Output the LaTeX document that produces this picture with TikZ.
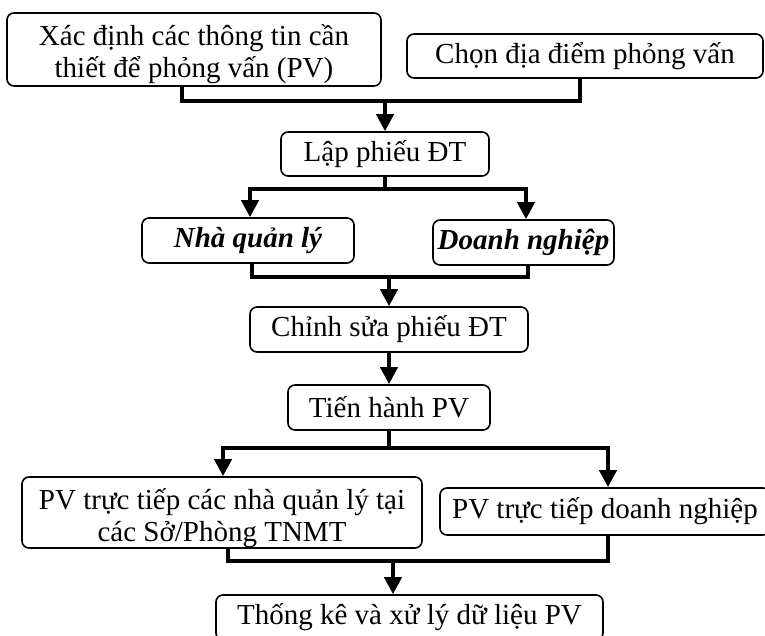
\documentclass[tikz,border=0pt]{standalone}
\usepackage{fontspec}
\setmainfont{Liberation Serif}
\usepackage{tikz}
\usetikzlibrary{positioning,arrows.meta,calc}
\tikzset{
  stepbox/.style={draw,rounded corners=7pt,line width=1.6pt,align=center,inner sep=0pt,
    font=\fontsize{29}{32}\selectfont},
  boxsize/.style 2 args={minimum width=#1pt,minimum height=#2pt},
  bolditem/.style={font=\fontsize{29}{32}\selectfont\bfseries\itshape},
  twoline/.style={align=center,inner sep=0pt,font=\fontsize{29}{32}\selectfont},
  link/.style={line width=4pt},
  arr/.style={-{Triangle[length=17pt,width=17pt]}},
}

\begin{document}
\begin{tikzpicture}[x=1pt,y=-1pt]
\clip (0,0) rectangle (765,636);
% boxes
\node[stepbox,boxsize={374}{73}] (info) at (194,49.5) {};
\node[twoline] (infotext) at ([yshift=-5pt]info.center) {Xác định các thông tin cần\\thiết để phỏng vấn (PV)};
\node[stepbox,boxsize={356}{44}] (place) at (585,56) {Chọn địa điểm phỏng vấn};
\node[stepbox,boxsize={208}{44}] (form) at (385,154) {Lập phiếu ĐT};
\node[stepbox,bolditem,boxsize={212}{45}] (mgr) at (248,240.5) {Nhà quản lý};
\node[stepbox,bolditem,boxsize={181}{45}] (biz) at (523.5,242.5) {Doanh nghiệp};
\node[stepbox,boxsize={278}{45}] (edit) at (389,329.5) {Chỉnh sửa phiếu ĐT};
\node[stepbox,boxsize={202}{45}] (run) at (389,407.5) {Tiến hành PV};
\node[stepbox,boxsize={400}{71}] (dmgr) at (222,512.5) {};
\node[twoline] (dmgrtext) at ([yshift=-6pt]dmgr.center) {PV trực tiếp các nhà quản lý tại\\các Sở/Phòng TNMT};
\node[stepbox,boxsize={330}{47}] (dbiz) at (605,511.5) {PV trực tiếp doanh nghiệp};
\node[stepbox,boxsize={387}{45}] (stats) at (409.5,617.5) {Thống kê và xử lý dữ liệu PV};
% joins
\coordinate (j1) at (385,101);
\coordinate (b1) at (385,189);
\coordinate (j2) at (389,277);
\coordinate (b2) at (389,448);
\coordinate (j3) at (393,561);
% connectors
\draw[link] ([xshift=-12pt]info.south) |- (j1) -| ([xshift=-5pt]place.south);
\draw[link,arr] (j1) -- (form);
\draw[link] (form) -- (b1);
\draw[link,arr] (b1) -| ([xshift=2pt]mgr.north);
\draw[link,arr] (b1) -| ([xshift=2.5pt]biz.north);
\draw[link] ([xshift=4pt]mgr.south) |- (j2) -| ([xshift=4.5pt]biz.south);
\draw[link,arr] (j2) -- (edit);
\draw[link,arr] (edit) -- (run);
\draw[link] (run) -- (b2);
\draw[link,arr] (b2) -| ([xshift=1pt]dmgr.north);
\draw[link,arr] (b2) -| ([xshift=3pt]dbiz.north);
\draw[link] ([xshift=6pt]dmgr.south) |- (j3) -| ([xshift=3pt]dbiz.south);
\draw[link,arr] (j3) -- (j3 |- stats.north);
\end{tikzpicture}
\end{document}
